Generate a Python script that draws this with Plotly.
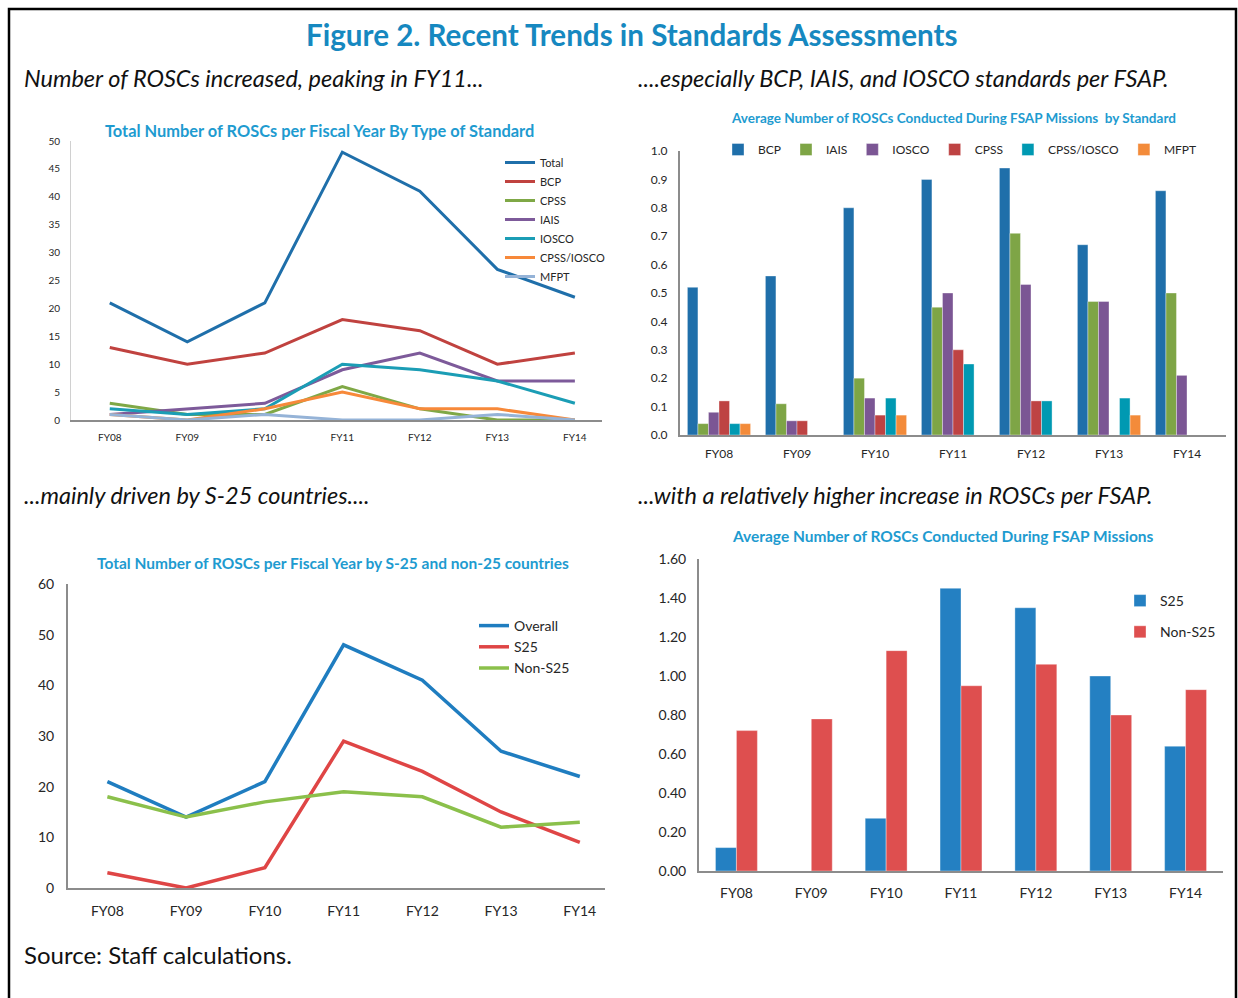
import plotly.graph_objects as go

W, H = 1238, 998
years = ["FY08", "FY09", "FY10", "FY11", "FY12", "FY13", "FY14"]

# Top-left: Total number of ROSCs per fiscal year by type of standard
tl_total = [21, 14, 21, 48, 41, 27, 22]
tl_bcp = [13, 10, 12, 18, 16, 10, 12]
tl_cpss = [3, 1, 1, 6, 2, 0, 0]
tl_iais = [1, 2, 3, 9, 12, 7, 7]
tl_iosco = [2, 1, 2, 10, 9, 7, 3]
tl_cpss_iosco = [1, 0, 2, 5, 2, 2, 0]
tl_mfpt = [1, 0, 1, 0, 0, 1, 0]

# Top-right: average number of ROSCs during FSAP missions by standard
tr_bcp = [0.52, 0.56, 0.80, 0.90, 0.94, 0.67, 0.86]
tr_iais = [0.04, 0.11, 0.20, 0.45, 0.71, 0.47, 0.50]
tr_iosco = [0.08, 0.05, 0.13, 0.50, 0.53, 0.47, 0.21]
tr_cpss = [0.12, 0.05, 0.07, 0.30, 0.12, 0.0, 0.0]
tr_cpss_iosco = [0.04, 0.0, 0.13, 0.25, 0.12, 0.13, 0.0]
tr_mfpt = [0.04, 0.0, 0.07, 0.0, 0.0, 0.07, 0.0]

# Bottom-left: total number of ROSCs by S-25 and non-S25
bl_overall = [21, 14, 21, 48, 41, 27, 22]
bl_s25 = [3, 0, 4, 29, 23, 15, 9]
bl_non = [18, 14, 17, 19, 18, 12, 13]

# Bottom-right: average ROSCs per FSAP mission
br_s25 = [0.12, 0.0, 0.27, 1.45, 1.35, 1.00, 0.64]
br_non = [0.72, 0.78, 1.13, 0.95, 1.06, 0.80, 0.93]

FONT = "Lato, Roboto, sans-serif"
TEXT = "#262626"
TITLE_C = "#1688C0"
CH_TITLE_C = "#1E9BD0"
AX = "#8C8C8C"


def px(x):
    return x / W


def py(y):
    return 1 - y / H


fig = go.Figure()

# ---- top-left lines
tl_series = [
    ("Total", tl_total, "#1F6FAA"),
    ("BCP", tl_bcp, "#C0423F"),
    ("CPSS", tl_cpss, "#7FA846"),
    ("IAIS", tl_iais, "#7D5A9A"),
    ("IOSCO", tl_iosco, "#1B9DB5"),
    ("CPSS/IOSCO", tl_cpss_iosco, "#F7893A"),
    ("MFPT", tl_mfpt, "#95B3D7"),
]
for name, vals, col in tl_series:
    fig.add_trace(go.Scatter(x=years, y=vals, name=name, mode="lines",
                             line=dict(color=col, width=3),
                             xaxis="x", yaxis="y", legend="legend"))

# ---- top-right bars
tr_series = [
    ("BCP", tr_bcp, "#1F6FAA"),
    ("IAIS", tr_iais, "#7EA546"),
    ("IOSCO", tr_iosco, "#7B5694"),
    ("CPSS", tr_cpss, "#BE4343"),
    ("CPSS/IOSCO", tr_cpss_iosco, "#0099B2"),
    ("MFPT", tr_mfpt, "#F38B3A"),
]
for name, vals, col in tr_series:
    fig.add_trace(go.Bar(x=years, y=vals, name=name, marker_color=col,
                         marker_line=dict(color="rgba(255,255,255,0.6)", width=0.6),
                         xaxis="x2", yaxis="y2", legend="legend2",
                         offsetgroup=name))

# ---- bottom-left lines
bl_series = [
    ("Overall", bl_overall, "#1F7DC0"),
    ("S25", bl_s25, "#DF4545"),
    ("Non-S25", bl_non, "#8BC04B"),
]
for name, vals, col in bl_series:
    fig.add_trace(go.Scatter(x=years, y=vals, name=name, mode="lines",
                             line=dict(color=col, width=3.5),
                             xaxis="x3", yaxis="y3", legend="legend3"))

# ---- bottom-right bars
br_series = [
    ("S25", br_s25, "#2480C2"),
    ("Non-S25", br_non, "#DE4F4F"),
]
for name, vals, col in br_series:
    fig.add_trace(go.Bar(x=years, y=vals, name=name, marker_color=col,
                         marker_line=dict(color="rgba(255,255,255,0.6)", width=0.6),
                         xaxis="x4", yaxis="y4", legend="legend4",
                         legendgroup=name, offsetgroup="br" + name))


def xax(d0, d1, rng, anchor, size, stand):
    return dict(domain=[px(d0), px(d1)], range=rng, anchor=anchor,
                showgrid=False, zeroline=False, showline=True, linecolor=AX,
                linewidth=2, ticks="", tickfont=dict(family=FONT, size=size, color=TEXT),
                ticklabelstandoff=stand, fixedrange=True, automargin=False)


def yax(d0, d1, rng, dtick, fmt, anchor, size, stand, lc, lw):
    return dict(domain=[py(d1), py(d0)], range=rng, dtick=dtick, tickformat=fmt,
                anchor=anchor, showgrid=False, zeroline=False,
                showline=lw > 0, linecolor=lc, linewidth=max(lw, 0.1), ticks="",
                tickfont=dict(family=FONT, size=size, color=TEXT),
                ticklabelstandoff=stand, fixedrange=True, automargin=False)


layout = dict(
    width=W, height=H,
    margin=dict(l=0, r=0, t=0, b=0, pad=0, autoexpand=False),
    paper_bgcolor="white", plot_bgcolor="white",
    showlegend=True,
    barmode="group",
    font=dict(family=FONT, color=TEXT),
    xaxis=xax(71, 602, [-0.5, 6.35], "y", 10, 7),
    yaxis=yax(141, 420, [0, 50], 5, "d", "x", 10, 8, "#D0D0D0", 1),
    xaxis2=xax(680, 1226, [-0.5, 6.5], "y2", 12, 7),
    yaxis2=yax(151, 435, [0, 1.0], 0.1, ".1f", "x2", 12, 8, AX, 2),
    xaxis3=xax(68, 605, [-0.5, 6.32], "y3", 14, 9),
    yaxis3=yax(584, 888, [0, 60], 10, "d", "x3", 14, 9, AX, 2),
    xaxis4=xax(699, 1223, [-0.5, 6.5], "y4", 14, 8),
    yaxis4=yax(559, 871, [0, 1.6], 0.2, ".2f", "x4", 14, 8, AX, 2),
    legend=dict(x=px(500), y=py(148), xanchor="left", yanchor="top",
                font=dict(family=FONT, size=11, color=TEXT), bgcolor="rgba(0,0,0,0)",
                itemwidth=30, tracegroupgap=0),
    legend2=dict(x=px(718), y=py(135), xanchor="left", yanchor="top",
                 orientation="h", font=dict(family=FONT, size=12, color=TEXT),
                 bgcolor="rgba(0,0,0,0)", itemwidth=30),
    legend3=dict(x=px(474), y=py(610), xanchor="left", yanchor="top",
                 font=dict(family=FONT, size=14, color=TEXT), bgcolor="rgba(0,0,0,0)",
                 itemwidth=30),
    legend4=dict(x=px(1120), y=py(585), xanchor="left", yanchor="top",
                 font=dict(family=FONT, size=14, color=TEXT), bgcolor="rgba(0,0,0,0)",
                 itemwidth=30, tracegroupgap=10),
)
fig.update_layout(**layout)
fig.update_layout(bargap=0.19)

# narrower bars for the bottom-right chart
for tr in fig.data:
    if tr.xaxis == "x4":
        tr.width = 0.28
        tr.offset = -0.28 if tr.name == "S25" else 0.0


def ann(text, x, y, size, color, bold=False, italic=False, xanchor="left"):
    t = text
    if bold:
        t = "<b>" + t + "</b>"
    if italic:
        t = "<i>" + t + "</i>"
    fig.add_annotation(text=t, x=px(x), y=py(y), xref="paper", yref="paper",
                       xanchor=xanchor, yanchor="middle", showarrow=False,
                       font=dict(family=FONT, size=size, color=color))


ann("Figure 2. Recent Trends in Standards Assessments", 631, 34, 29.6, TITLE_C, bold=True, xanchor="center")
ann("Number of ROSCs increased, peaking in FY11...", 22, 78, 23.5, "#111111", italic=True)
ann("....especially BCP, IAIS, and IOSCO standards per FSAP.", 636, 78, 23.5, "#111111", italic=True)
ann("...mainly driven by S-25 countries....", 22, 495, 23.5, "#111111", italic=True)
ann("...with a relatively higher increase in ROSCs per FSAP.", 636, 495, 23.5, "#111111", italic=True)
ann("Source: Staff calculations.", 22, 954, 24, "#111111")

ann("Total Number of ROSCs per Fiscal Year By Type of Standard", 319, 130, 16.4, CH_TITLE_C, bold=True, xanchor="center")
ann("Average Number of ROSCs Conducted During FSAP Missions  by Standard", 953, 118, 13.5, CH_TITLE_C, bold=True, xanchor="center")
ann("Total Number of ROSCs per Fiscal Year by S-25 and non-25 countries", 333, 563, 15.5, CH_TITLE_C, bold=True, xanchor="center")
ann("Average Number of ROSCs Conducted During FSAP Missions", 943, 536, 15.5, CH_TITLE_C, bold=True, xanchor="center")

# frame
fig.add_shape(type="rect", xref="paper", yref="paper",
              x0=px(9), x1=px(1236), y0=-0.05, y1=py(9),
              line=dict(color="black", width=2.5), fillcolor="rgba(0,0,0,0)")

fig.write_html(
    "out.html",
    config={"displayModeBar": False},
    post_script=(
        "document.documentElement.style.margin='0px';"
        "document.body.style.margin='0px';"
        "document.documentElement.style.overflow='hidden';"
        "document.body.style.overflow='hidden';"
        "var gd=document.getElementById('{plot_id}');"
        "gd.style.position='fixed';gd.style.top='0px';gd.style.left='0px';"
    ),
)
